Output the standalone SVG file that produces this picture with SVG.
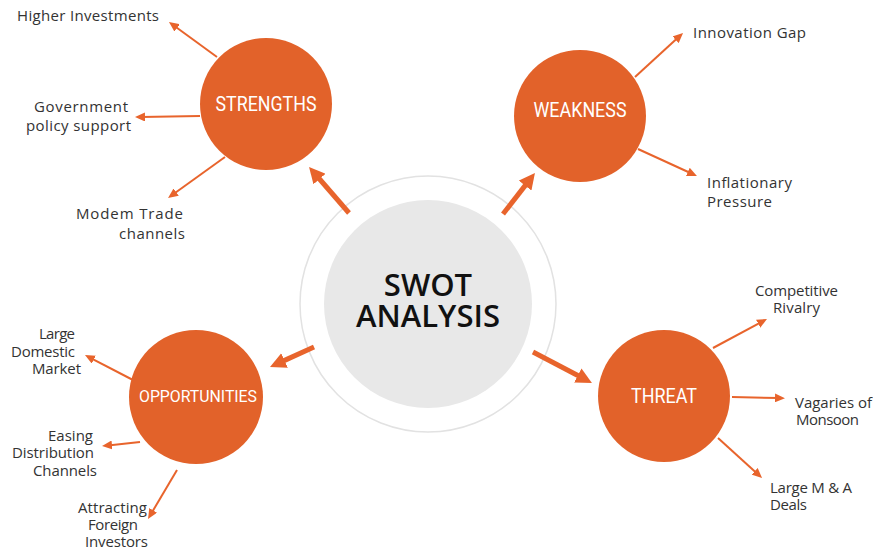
<svg xmlns="http://www.w3.org/2000/svg" width="873" height="552" viewBox="0 0 873 552">
<style>
.sat{fill:#E2622A}
.st{font-family:Roboto,"Liberation Sans",sans-serif;fill:#ffffff;text-anchor:middle}
.lb{font-family:"Open Sans","Liberation Sans",sans-serif;font-size:15px;fill:#333333}
.ct{font-family:"Open Sans","Liberation Sans",sans-serif;font-size:31px;font-weight:600;fill:#111111;text-anchor:middle}
.thick{stroke:#E8642C;stroke-width:5;fill:none}
.thin{stroke:#E8642C;stroke-width:2;fill:none}
</style>
<defs>
<marker id="big" viewBox="0 0 16 16" refX="6" refY="8" markerWidth="16" markerHeight="16" markerUnits="userSpaceOnUse" orient="auto">
<path d="M0,0 L16,8 L0,16 z" fill="#E8642C"/>
</marker>
<marker id="small" viewBox="0 0 10 9" refX="4" refY="4.5" markerWidth="10" markerHeight="9" markerUnits="userSpaceOnUse" orient="auto">
<path d="M0,0 L10,4.5 L0,9 z" fill="#E8642C"/>
</marker>
</defs>
<rect width="873" height="552" fill="#ffffff"/>
<g id="center">
<circle cx="428" cy="304" r="128" fill="#ffffff" stroke="#E2E2E2" stroke-width="1.5"/>
<circle cx="428" cy="304" r="104" fill="#E8E8E8"/>
<text class="ct" x="428" y="296">SWOT</text>
<text class="ct" x="428" y="327">ANALYSIS</text>
</g>
<g id="connectors">
<path class="thick" d="M349,213 L315.6,174.5" marker-end="url(#big)"/>
<path class="thick" d="M503,214 L528.8,180.9" marker-end="url(#big)"/>
<path class="thick" d="M314,347 L279.1,362.9" marker-end="url(#big)"/>
<path class="thick" d="M533,352 L583.1,378.3" marker-end="url(#big)"/>
<path class="thin" d="M217,57 L173.8,25.5" marker-end="url(#small)"/>
<path class="thin" d="M200,116 L141,117" marker-end="url(#small)"/>
<path class="thin" d="M225,157 L172.9,194.5" marker-end="url(#small)"/>
<path class="thin" d="M635,77 L678.6,37.1" marker-end="url(#small)"/>
<path class="thin" d="M638,149 L691.5,173.5" marker-end="url(#small)"/>
<path class="thin" d="M713,348 L761.7,321.8" marker-end="url(#small)"/>
<path class="thin" d="M732,397 L779,398" marker-end="url(#small)"/>
<path class="thin" d="M718,438 L757.6,474" marker-end="url(#small)"/>
<path class="thin" d="M133,380 L90.3,357.8" marker-end="url(#small)"/>
<path class="thin" d="M140,442 L108,445.4" marker-end="url(#small)"/>
<path class="thin" d="M177,470 L151.1,513.8" marker-end="url(#small)"/>
</g>
<g id="strengths">
<circle class="sat" cx="266" cy="104" r="66"/>
<text class="st" x="266" y="111" font-size="21" textLength="101" lengthAdjust="spacingAndGlyphs">STRENGTHS</text>
</g>
<g id="weakness">
<circle class="sat" cx="580" cy="116" r="66"/>
<text class="st" x="580" y="117" font-size="21" textLength="93" lengthAdjust="spacingAndGlyphs">WEAKNESS</text>
</g>
<g id="opportunities">
<circle class="sat" cx="196" cy="397" r="67"/>
<text class="st" x="198" y="402" font-size="16" textLength="118" lengthAdjust="spacingAndGlyphs">OPPORTUNITIES</text>
</g>
<g id="threat">
<circle class="sat" cx="664" cy="396" r="66"/>
<text class="st" x="664" y="403" font-size="21" textLength="66" lengthAdjust="spacingAndGlyphs">THREAT</text>
</g>
<g id="label-higher-investments"><text class="lb" x="17" y="21" textLength="142">Higher Investments</text></g>
<g id="label-government"><text class="lb" x="34" y="112" textLength="94">Government</text><text class="lb" x="26" y="131" textLength="105">policy support</text></g>
<g id="label-modern-trade"><text class="lb" x="76" y="219" textLength="107">Modem Trade</text><text class="lb" x="119" y="239" textLength="66">channels</text></g>
<g id="label-innovation"><text class="lb" x="693" y="38" font-size="16" textLength="113">Innovation Gap</text></g>
<g id="label-inflationary"><text class="lb" x="707" y="188" textLength="85">Inflationary</text><text class="lb" x="707" y="207" textLength="65">Pressure</text></g>
<g id="label-competitive"><text class="lb" x="755" y="296" textLength="83">Competitive</text><text class="lb" x="773" y="313" textLength="47">Rivalry</text></g>
<g id="label-vagaries"><text class="lb" x="795" y="408" textLength="77">Vagaries of</text><text class="lb" x="796" y="425" textLength="63">Monsoon</text></g>
<g id="label-large-ma"><text class="lb" x="770" y="493" textLength="82">Large M &amp; A</text><text class="lb" x="770" y="510" textLength="37">Deals</text></g>
<g id="label-large-domestic"><text class="lb" x="39" y="339" textLength="36">Large</text><text class="lb" x="11" y="357" textLength="64">Domestic</text><text class="lb" x="32" y="374" textLength="49">Market</text></g>
<g id="label-easing"><text class="lb" x="48" y="441" textLength="45">Easing</text><text class="lb" x="12" y="458" textLength="82">Distribution</text><text class="lb" x="33" y="476" textLength="64">Channels</text></g>
<g id="label-attracting"><text class="lb" x="78" y="513" textLength="69">Attracting</text><text class="lb" x="88" y="530" textLength="50">Foreign</text><text class="lb" x="85" y="547" textLength="63">Investors</text></g>
</svg>
